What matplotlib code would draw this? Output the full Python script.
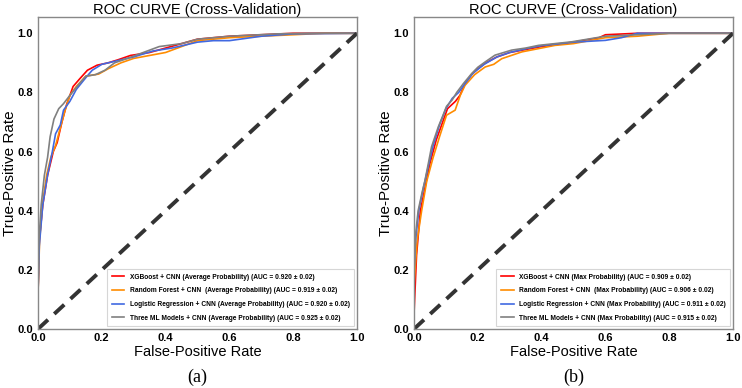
import matplotlib
matplotlib.use("Agg")
import matplotlib.pyplot as plt

# ---- (a) average probability ----
a_red_x = [0, 0.004, 0.015, 0.03, 0.048, 0.06, 0.075, 0.09, 0.11, 0.13, 0.155, 0.185, 0.22, 0.25, 0.29, 0.35, 0.4, 0.45, 0.5, 0.6, 0.7, 0.8, 1]
a_red_y = [0.12, 0.3, 0.42, 0.52, 0.6, 0.63, 0.7, 0.76, 0.82, 0.845, 0.875, 0.892, 0.9, 0.91, 0.925, 0.935, 0.95, 0.965, 0.98, 0.99, 0.995, 1.0, 1.0]
a_orange_x = [0, 0.005, 0.015, 0.027, 0.04, 0.055, 0.07, 0.085, 0.1, 0.12, 0.15, 0.19, 0.22, 0.26, 0.3, 0.35, 0.4, 0.45, 0.5, 0.6, 0.7, 0.8, 0.9, 1]
a_orange_y = [0.12, 0.3, 0.43, 0.52, 0.58, 0.62, 0.68, 0.74, 0.79, 0.82, 0.855, 0.862, 0.88, 0.9, 0.915, 0.925, 0.935, 0.955, 0.975, 0.985, 0.99, 0.995, 1.0, 1.0]
a_blue_x = [0, 0.004, 0.015, 0.03, 0.045, 0.055, 0.07, 0.08, 0.1, 0.12, 0.15, 0.17, 0.2, 0.24, 0.3, 0.36, 0.42, 0.5, 0.55, 0.6, 0.7, 0.8, 1]
a_blue_y = [0.12, 0.28, 0.42, 0.52, 0.6, 0.66, 0.69, 0.74, 0.77, 0.81, 0.85, 0.875, 0.895, 0.905, 0.92, 0.94, 0.95, 0.97, 0.975, 0.975, 0.99, 0.998, 1.0]
a_gray_x = [0, 0.003, 0.01, 0.02, 0.03, 0.038, 0.05, 0.065, 0.08, 0.1, 0.13, 0.15, 0.18, 0.21, 0.24, 0.28, 0.33, 0.38, 0.45, 0.5, 0.6, 0.75, 0.85, 1]
a_gray_y = [0.12, 0.3, 0.42, 0.52, 0.58, 0.65, 0.71, 0.745, 0.762, 0.79, 0.83, 0.855, 0.86, 0.875, 0.9, 0.915, 0.935, 0.955, 0.965, 0.98, 0.99, 0.998, 1.0, 1.0]

# ---- (b) max probability ----
b_red_x = [0, 0.008, 0.02, 0.035, 0.05, 0.07, 0.09, 0.105, 0.117, 0.13, 0.144, 0.16, 0.18, 0.2, 0.225, 0.26, 0.3, 0.35, 0.4, 0.5, 0.58, 0.6, 0.7, 1]
b_red_y = [0.05, 0.25, 0.4, 0.48, 0.56, 0.64, 0.7, 0.745, 0.757, 0.77, 0.79, 0.83, 0.86, 0.88, 0.9, 0.92, 0.935, 0.945, 0.955, 0.97, 0.985, 0.995, 1.0, 1.0]
b_orange_x = [0, 0.01, 0.024, 0.04, 0.06, 0.08, 0.095, 0.102, 0.129, 0.145, 0.16, 0.19, 0.223, 0.25, 0.275, 0.338, 0.442, 0.5, 0.6, 0.7, 0.8, 1]
b_orange_y = [0.15, 0.3, 0.4, 0.5, 0.58, 0.65, 0.7, 0.723, 0.74, 0.79, 0.824, 0.86, 0.886, 0.895, 0.914, 0.937, 0.959, 0.965, 0.985, 0.99, 1.0, 1.0]
b_blue_x = [0, 0.005, 0.015, 0.03, 0.045, 0.06, 0.08, 0.1, 0.12, 0.14, 0.16, 0.185, 0.22, 0.26, 0.3, 0.36, 0.4, 0.5, 0.6, 0.65, 0.7, 1]
b_blue_y = [0.2, 0.3, 0.4, 0.48, 0.55, 0.62, 0.69, 0.745, 0.78, 0.8, 0.83, 0.865, 0.895, 0.92, 0.935, 0.95, 0.958, 0.97, 0.976, 0.985, 1.0, 1.0]
b_gray_x = [0, 0.005, 0.013, 0.025, 0.034, 0.045, 0.055, 0.076, 0.09, 0.102, 0.12, 0.134, 0.155, 0.181, 0.2, 0.223, 0.254, 0.306, 0.35, 0.39, 0.494, 0.6, 0.7, 0.8, 1]
b_gray_y = [0.18, 0.32, 0.4, 0.46, 0.5, 0.56, 0.616, 0.683, 0.72, 0.753, 0.775, 0.8, 0.83, 0.864, 0.885, 0.903, 0.926, 0.943, 0.95, 0.959, 0.971, 0.99, 0.995, 1.0, 1.0]

colors = ["red", "darkorange", "royalblue", "gray"]
a_labels = ["XGBoost + CNN (Average Probability) (AUC = 0.920 \u00b1 0.02)",
            "Random Forest + CNN  (Average Probability) (AUC = 0.919 \u00b1 0.02)",
            "Logistic Regression + CNN (Average Probability) (AUC = 0.920 \u00b1 0.02)",
            "Three ML Models + CNN (Average Probability) (AUC = 0.925 \u00b1 0.02)"]
b_labels = ["XGBoost + CNN (Max Probability) (AUC = 0.909 \u00b1 0.02)",
            "Random Forest + CNN  (Max Probability) (AUC = 0.906 \u00b1 0.02)",
            "Logistic Regression + CNN (Max Probability) (AUC = 0.911 \u00b1 0.02)",
            "Three ML Models + CNN (Max Probability) (AUC = 0.915 \u00b1 0.02)"]

plt.rcParams["font.family"] = "Liberation Sans"

fig = plt.figure(figsize=(7.42, 3.88), dpi=100)
ax1 = fig.add_axes([38/742, 59/388, 319/742, 312/388])
ax2 = fig.add_axes([414/742, 59/388, 319/742, 312/388])


def draw_panel(ax, curves, labels, tag):
    for (xs, ys), c, lab in zip(curves, colors, labels):
        ax.plot(xs, ys, color=c, lw=1.2, label=lab)
    ax.plot([0, 1], [0, 1], color="#333333", lw=2.8, ls=(0, (3.5, 2.2)))
    ax.set_xlim(0, 1)
    ax.set_ylim(0, 1.055)
    ax.set_xticks([0, 0.2, 0.4, 0.6, 0.8, 1.0])
    ax.set_yticks([0, 0.2, 0.4, 0.6, 0.8, 1.0])
    ax.tick_params(axis="x", length=0, labelsize=8, pad=3)
    ax.tick_params(axis="y", length=0, labelsize=8, pad=3.6)
    for t in ax.get_xticklabels() + ax.get_yticklabels():
        t.set_fontweight("bold")
    for s in ax.spines.values():
        s.set_color("#888888")
        s.set_linewidth(1.0)
    ax.set_title("ROC CURVE (Cross-Validation)", fontsize=10.5, pad=2)
    ax.set_xlabel("False-Positive Rate", fontsize=10.5, labelpad=1)
    ax.set_ylabel("True-Positive Rate", fontsize=11, labelpad=0)
    leg = ax.legend(loc="lower right", prop={"size": 4.8, "weight": "bold"},
                    frameon=True, fancybox=False, handlelength=1.9,
                    borderpad=0.7, labelspacing=1.0, borderaxespad=0.4)
    leg.get_frame().set_edgecolor("#cccccc")
    leg.get_frame().set_linewidth(0.8)
    ax.text(0.5, -0.154, tag, transform=ax.transAxes, ha="center", va="center",
            fontsize=13, family="Liberation Serif")


draw_panel(ax1, [(a_red_x, a_red_y), (a_orange_x, a_orange_y),
                 (a_blue_x, a_blue_y), (a_gray_x, a_gray_y)], a_labels, "(a)")
draw_panel(ax2, [(b_red_x, b_red_y), (b_orange_x, b_orange_y),
                 (b_blue_x, b_blue_y), (b_gray_x, b_gray_y)], b_labels, "(b)")

fig.savefig("out.png", dpi=100)
